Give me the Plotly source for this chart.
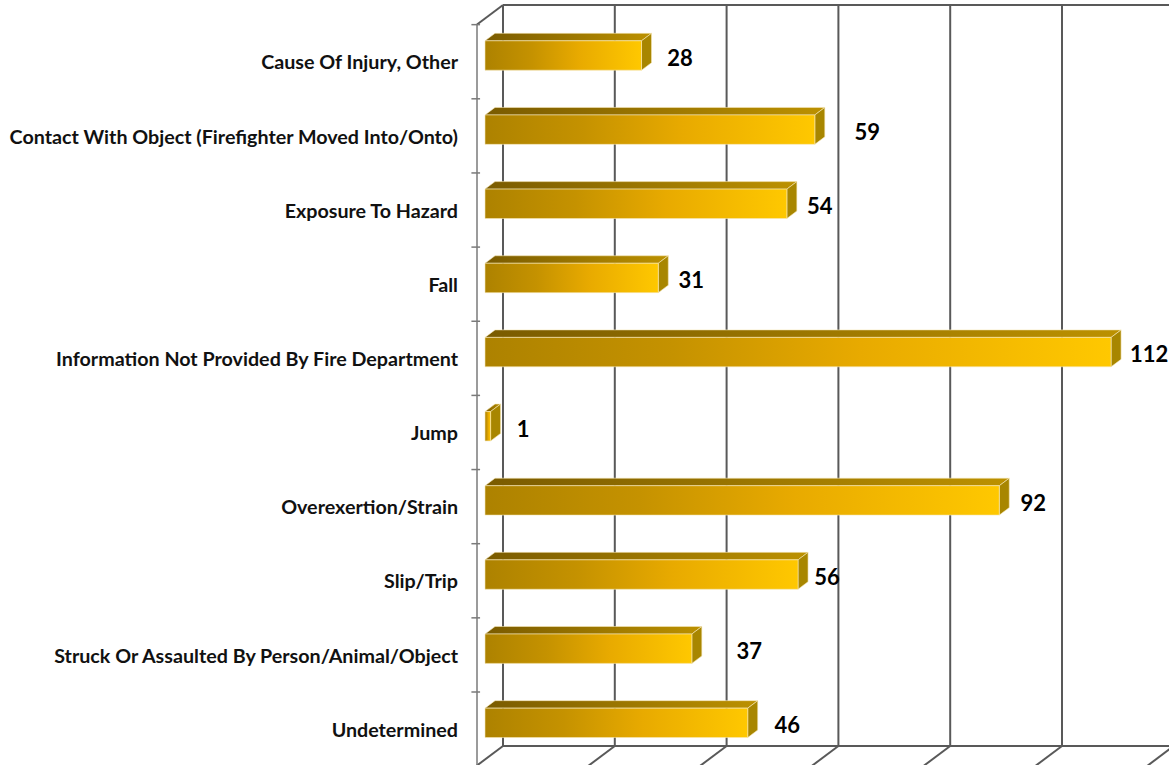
import plotly.graph_objects as go

categories = ["Cause Of Injury, Other", "Contact With Object (Firefighter Moved Into/Onto)",
              "Exposure To Hazard", "Fall", "Information Not Provided By Fire Department",
              "Jump", "Overexertion/Strain", "Slip/Trip",
              "Struck Or Assaulted By Person/Animal/Object", "Undetermined"]
bar_lengths = [28, 59, 54, 31, 112, 1, 92, 56, 37, 47]
value_labels = ["28", "59", "54", "31", "112", "1", "92", "56", "37", "46"]
label_gap = [38.5, 52.5, 33, 33, 38, 32.5, 34, 29, 57.5, 39.5]
axis_ticks = [0, 20, 40, 60, 80, 100, 120]

W, H = 1169, 765
LEFT = 465
PX_X = 5.59
PX_Y = 74.15
x0, x1 = -(485 - LEFT) / PX_X, (W - 485) / PX_X
y_top, y_bot = -55.5 / PX_Y, (H - 55.5) / PX_Y

half_h = 14.7 / PX_Y
dx, dy = 10 / PX_X, 7.5 / PX_Y
back_x = 18 / PX_X
wall_dx, wall_dy = 26 / PX_X, 19.5 / PX_Y
wall_top, wall_bottom = -0.681, 9.312
axis_x = back_x - wall_dx
rows = list(range(len(categories)))

fig = go.Figure()

def lines(xs, ys, color, width):
    fig.add_trace(go.Scatter(x=xs, y=ys, mode="lines", hoverinfo="skip", showlegend=False,
                             line=dict(color=color, width=width)))

# back wall and floor
gx, gy = [], []
for t in axis_ticks:
    bx = t + back_x
    gx += [bx, bx, None, bx, bx - wall_dx * 1.2, None]
    gy += [wall_top, wall_bottom, None, wall_bottom, wall_bottom + wall_dy * 1.2, None]
gx += [back_x, x1, None, back_x, x1, None, axis_x, back_x]
gy += [wall_top, wall_top, None, wall_bottom, wall_bottom, None, wall_top + wall_dy, wall_top]
lines(gx, gy, "#595959", 2)

# front axis and its tick marks
tx, ty = [axis_x, axis_x, None], [wall_top + wall_dy, y_bot, None]
for k in range(len(categories)):
    yy = k - 0.416
    tx += [axis_x - 1, axis_x + 0.55, None]
    ty += [yy, yy, None]
lines(tx, ty, "#7a7a7a", 1.5)

EDGE = "#f6e7b8"
def face(xs, ys, gradient=None, solid=None):
    kw = dict(fillcolor=solid) if solid else dict(
        fillgradient=dict(type="horizontal", colorscale=gradient))
    fig.add_trace(go.Scatter(x=xs, y=ys, mode="lines", fill="toself", hoverinfo="skip",
                             showlegend=False, line=dict(color=EDGE, width=0.6), **kw))

front_scale = [[0, "#AD8200"], [0.3, "#C59200"], [0.6, "#E8AA00"], [1, "#FFC800"]]
top_scale = [[0, "#7A5B00"], [1, "#BC9100"]]

for i, v in zip(rows, bar_lengths):
    t, b = i - half_h, i + half_h
    face([0, dx, v + dx, v, 0], [t, t - dy, t - dy, t, t], gradient=top_scale)
    face([v, v + dx, v + dx, v, v], [t, t - dy, b - dy, b, t], solid="#A88600")
    face([0, v, v, 0, 0], [t, t, b, b, t], gradient=front_scale)

fig.add_trace(go.Scatter(
    x=[v + g / PX_X for v, g in zip(bar_lengths, label_gap)],
    y=[i + 0.065 for i in rows], mode="text", text=value_labels, cliponaxis=False,
    textposition="middle center", hoverinfo="skip", showlegend=False,
    textfont=dict(family="Lato", size=22, color="#000000", weight="bold")))

fig.update_layout(
    width=W, height=H, margin=dict(l=LEFT, r=0, t=0, b=0),
    paper_bgcolor="white", plot_bgcolor="white", showlegend=False,
    xaxis=dict(range=[x0, x1], visible=False, fixedrange=True),
    yaxis=dict(range=[y_bot, y_top], showgrid=False, zeroline=False, showline=False,
               ticks="", tickmode="array", tickvals=[i + 0.095 for i in rows],
               ticktext=categories, ticklabelstandoff=6, fixedrange=True,
               tickfont=dict(family="Lato", size=19.7, color="#111111", weight="bold")),
)
fig.write_html("out.html", config={"displayModeBar": False},
               post_script="document.body.style.margin='0';document.body.style.overflow='hidden';")
